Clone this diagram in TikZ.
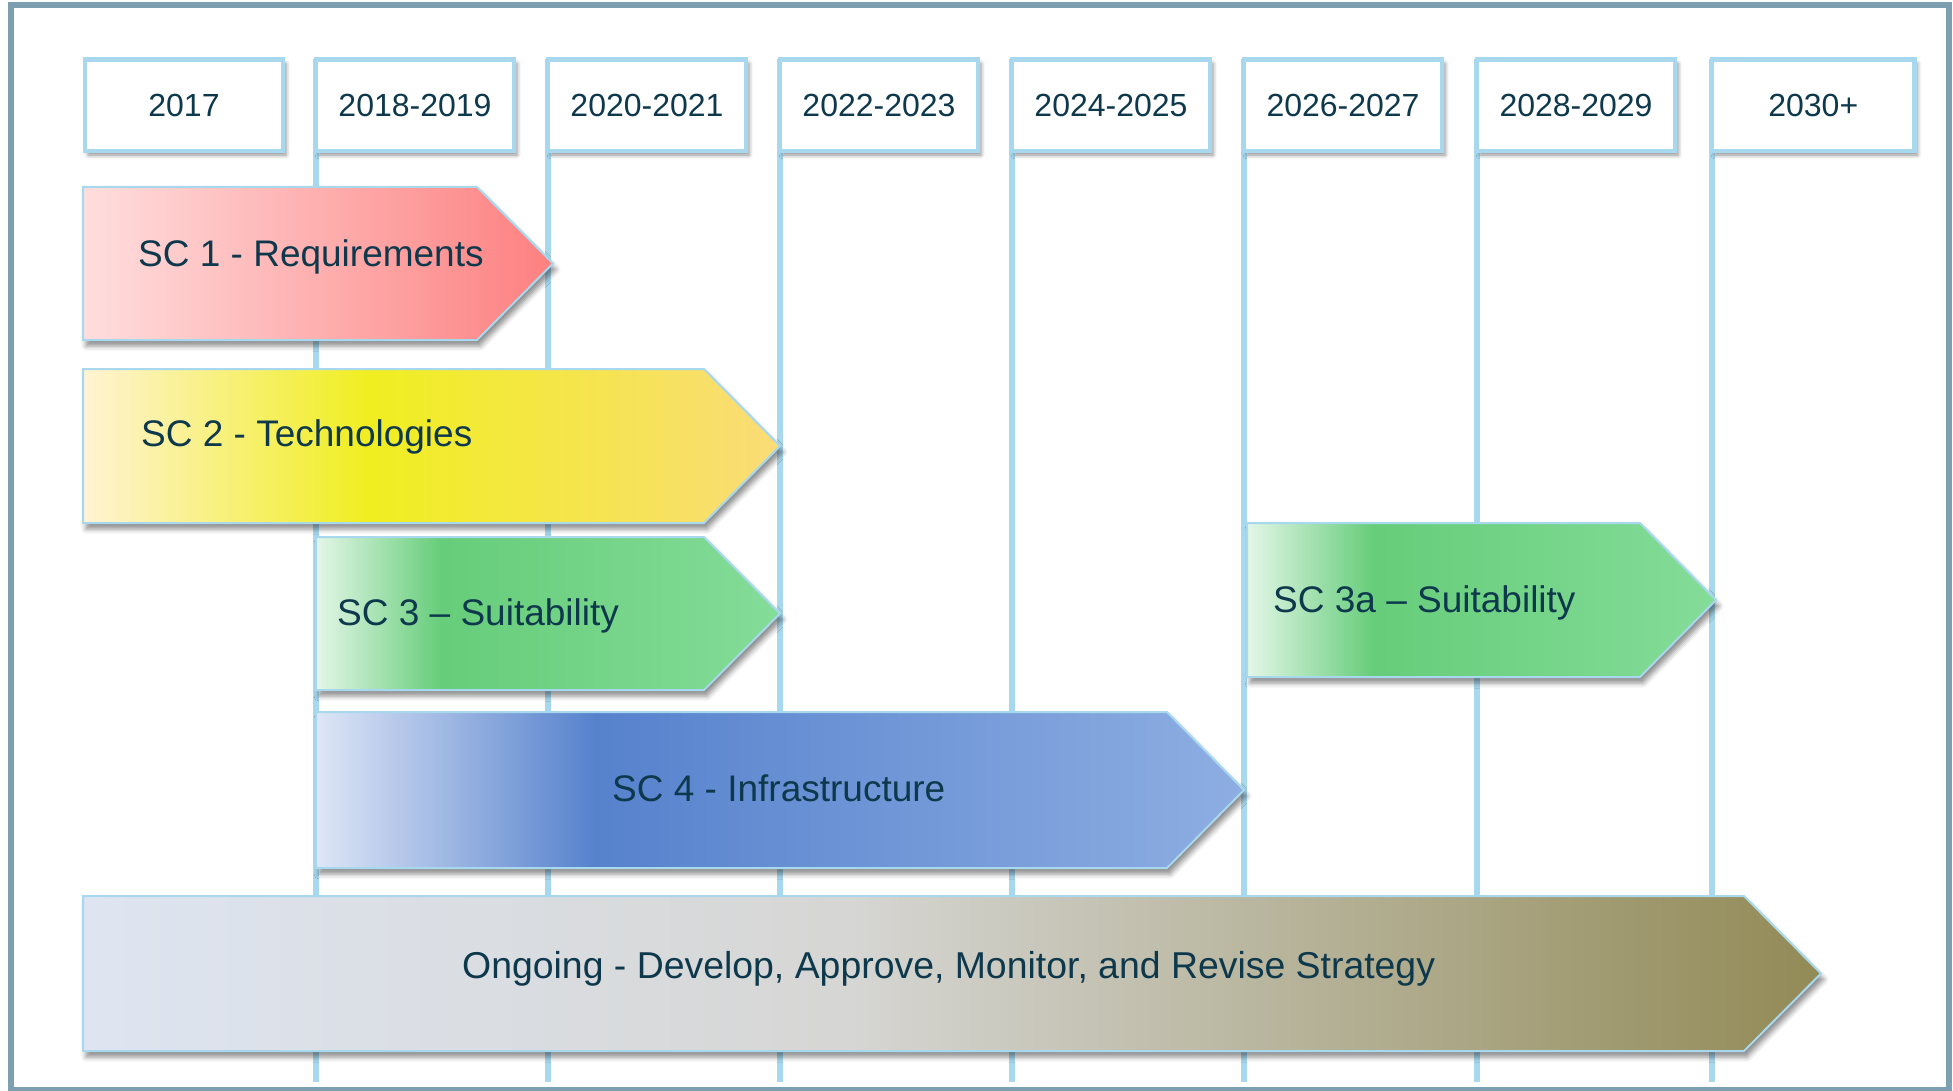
\documentclass[tikz,border=0pt]{standalone}
\usepackage{fontspec}
\setmainfont{Liberation Sans}
\usetikzlibrary{shadows.blur}
\definecolor{txt}{RGB}{14,56,76}
\definecolor{framec}{RGB}{125,159,177}
\definecolor{lblue}{RGB}{168,216,238}
\definecolor{r0}{RGB}{255,222,222}
\definecolor{r1}{RGB}{253,128,128}
\definecolor{y0}{RGB}{255,243,212}
\definecolor{y1}{RGB}{240,238,32}
\definecolor{y2}{RGB}{250,220,120}
\definecolor{g0}{RGB}{228,246,232}
\definecolor{g1}{RGB}{102,205,122}
\definecolor{g2}{RGB}{132,220,152}
\definecolor{b0}{RGB}{222,230,246}
\definecolor{b1}{RGB}{86,130,205}
\definecolor{b2}{RGB}{142,174,226}
\definecolor{o0}{RGB}{222,229,241}
\definecolor{o1}{RGB}{214,214,212}
\definecolor{o2}{RGB}{146,138,86}
\pgfdeclarehorizontalshading{redsh}{100bp}{color(0bp)=(r0); color(25bp)=(r0); color(75bp)=(r1); color(100bp)=(r1)}
\pgfdeclarehorizontalshading{yelsh}{100bp}{color(0bp)=(y0); color(25bp)=(y0); color(45.5bp)=(y1); color(75bp)=(y2); color(100bp)=(y2)}
\pgfdeclarehorizontalshading{grnsh}{100bp}{color(0bp)=(g0); color(25bp)=(g0); color(38.5bp)=(g1); color(75bp)=(g2); color(100bp)=(g2)}
\pgfdeclarehorizontalshading{blush}{100bp}{color(0bp)=(b0); color(25bp)=(b0); color(40bp)=(b1); color(75bp)=(b2); color(100bp)=(b2)}
\pgfdeclarehorizontalshading{olvsh}{100bp}{color(0bp)=(o0); color(25bp)=(o0); color(47bp)=(o1); color(75bp)=(o2); color(100bp)=(o2)}
\tikzset{
  yearbox/.style={draw=lblue, line width=4.5pt, fill=white, minimum width=198pt,
    minimum height=91.5pt, inner sep=0pt, outer sep=0pt, anchor=north west,
    text=txt, font=\fontsize{32}{38}\selectfont,
    blur shadow={shadow xshift=3pt, shadow yshift=-4pt, shadow blur radius=4pt, shadow opacity=45}},
  gridline/.style={draw=lblue, line width=5.5pt},
  chevron/.style={draw=lblue, line width=2pt, shade,
    blur shadow={shadow xshift=3pt, shadow yshift=-6pt, shadow blur radius=5pt, shadow opacity=45}},
  lbl/.style={anchor=base west, inner sep=0pt, text=txt, font=\fontsize{37}{44}\selectfont}
}
\begin{document}
\begin{tikzpicture}[x=1pt, y=-1pt]
\useasboundingbox (0,0) rectangle (1953,1091);
% outer frame
\draw[framec, line width=6pt] (11,5.5) rectangle (1949,1090);
% grid lines
\foreach \gx/\nm in {316/l1, 548/l2, 780/l3, 1012/l4, 1244/l5, 1477/l6, 1712/l7} {
  \coordinate (\nm t) at (\gx,59.5);
  \coordinate (\nm b) at (\gx,1082);
  \draw[gridline] (\nm t) -- (\nm b);
}
% year boxes
\node[yearbox] (y2017) at (85,59.5) {2017};
\node[yearbox] (y2018) at (316,59.5) {2018-2019};
\node[yearbox] (y2020) at (548,59.5) {2020-2021};
\node[yearbox] (y2022) at (780,59.5) {2022-2023};
\node[yearbox] (y2024) at (1012,59.5) {2024-2025};
\node[yearbox] (y2026) at (1244,59.5) {2026-2027};
\node[yearbox] (y2028) at (1477,59.5) {2028-2029};
\node[yearbox, minimum width=202.5pt] (y2030) at (1712,59.5) {2030+};
% chevrons
\path[chevron, shading=redsh] (83,187) -- (477,187) -- (553,263.5) -- (477,340) -- (83,340) -- cycle;
\path[chevron, shading=yelsh] (83,369) -- (704,369) -- (780,446) -- (704,523) -- (83,523) -- cycle;
\path[chevron, shading=grnsh] (316,537) -- (704,537) -- (780,613.5) -- (704,690) -- (316,690) -- cycle;
\path[chevron, shading=grnsh] (1247,523) -- (1640,523) -- (1716,600) -- (1640,677) -- (1247,677) -- cycle;
\path[chevron, shading=blush] (316,712) -- (1167,712) -- (1244,790) -- (1167,868) -- (316,868) -- cycle;
\path[chevron, shading=olvsh] (83,896) -- (1744,896) -- (1821,973.5) -- (1744,1051) -- (83,1051) -- cycle;
% labels
\node[lbl] (sc1) at (138,266.7) {SC 1 - Requirements};
\node[lbl] (sc2) at (141,446.5) {SC 2 - Technologies};
\node[lbl] (sc3) at (337,625) {SC 3 \textendash{} Suitability};
\node[lbl] (sc3a) at (1273,612) {SC 3a \textendash{} Suitability};
\node[lbl] (sc4) at (612,801.5) {SC 4 - Infrastructure};
\node[lbl, font=\fontsize{37.4}{44}\selectfont] (ong) at (462,978) {Ongoing - Develop, Approve, Monitor, and Revise Strategy};
\end{tikzpicture}
\end{document}
